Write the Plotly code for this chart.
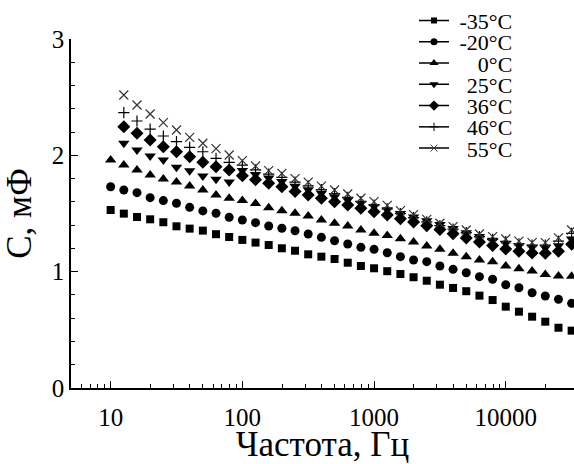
import plotly.graph_objects as go

# Frequency grid (Hz), 10 points per decade
freq = [10, 12.59, 15.85, 19.95, 25.12, 31.62, 39.81, 50.12, 63.10, 79.43,
        100, 125.9, 158.5, 199.5, 251.2, 316.2, 398.1, 501.2, 631.0, 794.3,
        1000, 1259, 1585, 1995, 2512, 3162, 3981, 5012, 6310, 7943,
        10000, 12589, 15849, 19953, 25119, 31623]

temps = ["-35°C", "-20°C", "0°C", "25°C", "36°C", "46°C", "55°C"]

c_m35 = [1.530, 1.499, 1.470, 1.450, 1.425, 1.390, 1.370, 1.353, 1.322, 1.298,
         1.273, 1.250, 1.229, 1.201, 1.180, 1.149, 1.129, 1.109, 1.077, 1.049,
         1.029, 1.004, 0.980, 0.952, 0.922, 0.888, 0.860, 0.832, 0.794, 0.756,
         0.699, 0.656, 0.613, 0.570, 0.518, 0.493]
c_m20 = [1.730, 1.702, 1.679, 1.636, 1.611, 1.588, 1.553, 1.522, 1.502, 1.467,
         1.444, 1.421, 1.393, 1.373, 1.352, 1.324, 1.295, 1.266, 1.238, 1.209,
         1.192, 1.163, 1.129, 1.100, 1.086, 1.049, 1.020, 0.991, 0.957, 0.935,
         0.888, 0.862, 0.819, 0.791, 0.762, 0.728]
c_0 = [1.960, 1.917, 1.874, 1.831, 1.797, 1.771, 1.736, 1.702, 1.659, 1.631,
       1.611, 1.585, 1.550, 1.524, 1.502, 1.479, 1.444, 1.416, 1.393, 1.358,
       1.330, 1.310, 1.282, 1.255, 1.221, 1.192, 1.158, 1.129, 1.100, 1.086,
       1.049, 1.025, 1.005, 0.975, 0.962, 0.960]
# series below start at the second frequency
c_25 = [2.103, 2.046, 1.994, 1.960, 1.897, 1.868, 1.822, 1.794, 1.770,
        1.870, 1.835, 1.805, 1.775, 1.735, 1.705, 1.675, 1.645, 1.615, 1.588,
        1.560, 1.532, 1.500, 1.470, 1.438, 1.405, 1.370, 1.335, 1.302, 1.270,
        1.245, 1.222, 1.210, 1.205, 1.222, 1.280]
c_36 = [2.246, 2.189, 2.132, 2.074, 2.031, 1.988, 1.940, 1.902, 1.874, 1.825,
        1.790, 1.760, 1.730, 1.690, 1.659, 1.631, 1.602, 1.573, 1.545, 1.516,
        1.487, 1.455, 1.428, 1.395, 1.362, 1.325, 1.290, 1.255, 1.225, 1.195,
        1.175, 1.160, 1.158, 1.175, 1.235]
c_46 = [2.367, 2.295, 2.226, 2.166, 2.117, 2.069, 2.031, 1.974, 1.940, 1.915,
        1.875, 1.838, 1.810, 1.770, 1.738, 1.705, 1.672, 1.638, 1.602, 1.572,
        1.540, 1.500, 1.465, 1.428, 1.395, 1.365, 1.335, 1.302, 1.278, 1.258,
        1.240, 1.228, 1.228, 1.262, 1.330]
c_55 = [2.519, 2.433, 2.355, 2.281, 2.218, 2.155, 2.104, 2.058, 2.003, 1.954,
        1.908, 1.868, 1.845, 1.800, 1.770, 1.736, 1.702, 1.668, 1.631, 1.602,
        1.570, 1.525, 1.490, 1.450, 1.416, 1.387, 1.358, 1.324, 1.301, 1.281,
        1.262, 1.250, 1.250, 1.290, 1.358]

x_tickvals = [10, 100, 1000, 10000]
x_ticktext = ["10", "100", "1000", "10000"]
x_minor = [6, 7, 8, 9, 20, 30, 40, 50, 60, 70, 80, 90,
           200, 300, 400, 500, 600, 700, 800, 900,
           2000, 3000, 4000, 5000, 6000, 7000, 8000, 9000, 20000]
y_tickvals = [0, 1, 2, 3]

series = [c_m35, c_m20, c_0, c_25, c_36, c_46, c_55]
symbols = ["square", "circle", "triangle-up", "triangle-down", "diamond",
           "cross-thin", "x-thin"]
sizes = [8, 9, 10, 10, 10, 8, 9]
colors = ["black", "black", "black", "black", "black", "black", "#333333"]
legend_labels = ["\u2005-35°C", "\u2005-20°C", "\u2005\u2004\u20070°C",
                 "\u2005\u200425°C", "\u2005\u200436°C", "\u2005\u200446°C",
                 "\u2005\u200455°C"]

FONT = "'Liberation Serif', 'Times New Roman', Times, serif"

W, H = 574, 464
plot_l, plot_r, plot_t, plot_b = 71, 574, 39, 388
plot_w, plot_h = plot_r - plot_l, plot_b - plot_t

fig = go.Figure()
for i, vals in enumerate(series):
    xs = freq if len(vals) == len(freq) else freq[1:]
    thin = symbols[i].endswith("-thin")
    fig.add_trace(go.Scatter(
        x=xs, y=vals, mode="markers", showlegend=False, cliponaxis=False,
        marker=dict(symbol=symbols[i], size=sizes[i], color=colors[i],
                    line=dict(width=1.2 if thin else 0, color=colors[i]))))

# legend entries (line + marker), one legend per entry for exact spacing
for i in range(len(series)):
    thin = symbols[i].endswith("-thin")
    lname = "legend" if i == 0 else f"legend{i+1}"
    fig.add_trace(go.Scatter(
        x=[None], y=[None], mode="lines+markers", name=legend_labels[i],
        legend=lname, showlegend=True,
        line=dict(color="black", width=1.5),
        marker=dict(symbol=symbols[i], size=sizes[i] - 2, color=colors[i],
                    line=dict(width=1 if thin else 0, color=colors[i]))))

legend_common = dict(font=dict(family=FONT, size=22, color="black"),
                     bgcolor="rgba(0,0,0,0)", borderwidth=0,
                     xanchor="left", yanchor="middle", itemwidth=30)
for i in range(len(series)):
    lname = "legend" if i == 0 else f"legend{i+1}"
    py = 20.7 + 21.27 * i
    fig.update_layout({lname: dict(legend_common,
                                   x=(414 - plot_l) / plot_w,
                                   y=(plot_b - py) / plot_h)})

axis_common = dict(showline=True, linecolor="black", linewidth=1.5,
                   showgrid=False, zeroline=False, mirror=False,
                   ticks="inside", ticklen=7, tickwidth=1.3, tickcolor="black",
                   tickfont=dict(family=FONT, size=25, color="black"))

fig.update_xaxes(type="log", range=[0.699, 4.518],
                 tickvals=x_tickvals, ticktext=x_ticktext,
                 ticklabelstandoff=6,
                 minor=dict(tickvals=x_minor, ticks="inside", ticklen=4,
                            tickwidth=1.2, tickcolor="black"),
                 title=dict(text="Частота, Гц",
                            font=dict(family=FONT, size=35, color="black"),
                            standoff=0),
                 **axis_common)
fig.update_yaxes(range=[0, 3], tickvals=y_tickvals,
                 minor=dict(dtick=0.2, ticks="inside", ticklen=4,
                            tickwidth=1.2, tickcolor="black"),
                 title=dict(text="C, мФ",
                            font=dict(family=FONT, size=35, color="black"),
                            standoff=10),
                 **axis_common)

fig.update_layout(width=W, height=H,
                  margin=dict(l=plot_l, r=W - plot_r, t=plot_t, b=H - plot_b,
                              autoexpand=False),
                  paper_bgcolor="white", plot_bgcolor="white",
                  font=dict(family=FONT, color="black"))

# remove the browser's default body margin so the figure fills the window
fig.write_html("out.html",
               config={"displayModeBar": False},
               post_script="document.body.style.margin='0';"
                           "document.body.style.overflow='hidden';")
